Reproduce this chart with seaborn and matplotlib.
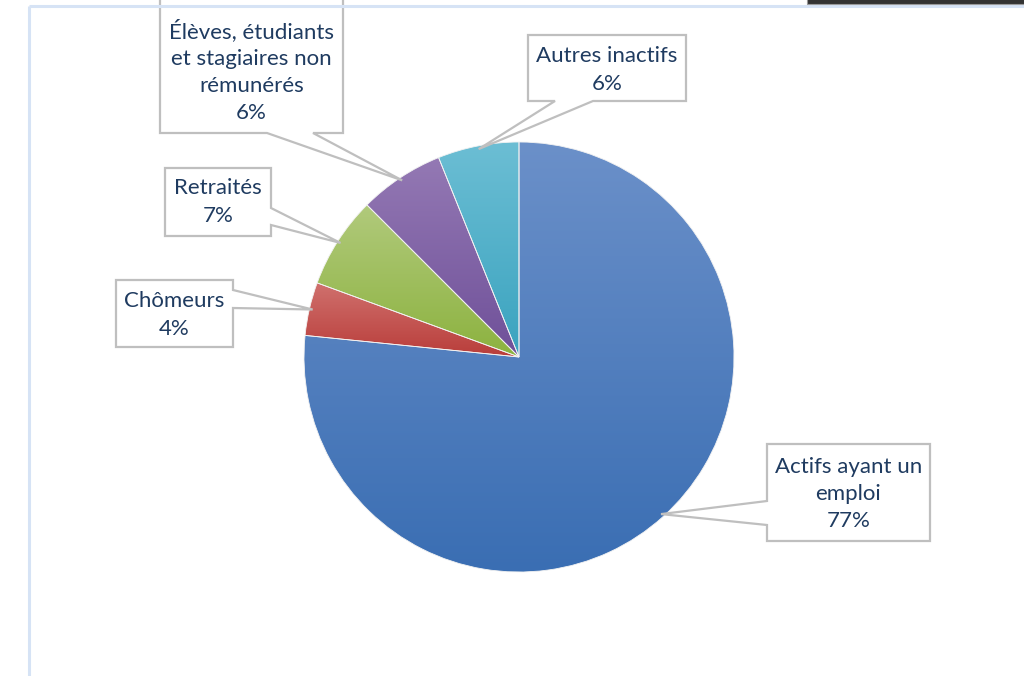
import numpy as np
import matplotlib
matplotlib.use("Agg")
import matplotlib.pyplot as plt
from matplotlib.colors import to_rgb
from matplotlib.patches import Polygon, Rectangle
import seaborn as sns

# ---- data ----
categories = ["Actifs ayant un\nemploi", "Chômeurs", "Retraités",
              "Élèves, étudiants\net stagiaires non\nrémunérés", "Autres inactifs"]
shares = [76.6, 4.0, 6.9, 6.4, 6.1]

# ---- style ----
top_colors = ["#6B90C9", "#D0716E", "#B1CA7C", "#9479B4", "#6CBED4"]
bottom_colors = ["#3A6EB3", "#B93D3A", "#8CB23F", "#6F5099", "#3AA3BF"]
text_color = "#1F3B60"
box_edge = "#BFBFBF"

sns.set_theme(style="white")
plt.rcParams["font.family"] = ["Lato", "DejaVu Sans"]

W, H = 1024, 676
fig = plt.figure(figsize=(W / 100, H / 100), dpi=100)
ax = fig.add_axes([0, 0, 1, 1])

CX, CY, R = 519, 357, 215   # image coords


def Y(y):
    return H - y


wedges, _ = ax.pie(shares, startangle=90, counterclock=False,
                   center=(CX, Y(CY)), radius=R, frame=True,
                   colors=bottom_colors,
                   wedgeprops=dict(edgecolor="#F2F2F2", linewidth=0.6))

# gradient fill per wedge
for w, ct, cb in zip(wedges, top_colors, bottom_colors):
    ext = w.get_path().get_extents()
    n = 256
    t = np.linspace(0, 1, n)[:, None]
    grad = (1 - t) * np.array(to_rgb(ct)) + t * np.array(to_rgb(cb))
    grad = grad[:, None, :]
    im = ax.imshow(grad, extent=[ext.x0, ext.x1, ext.y0, ext.y1],
                   origin="upper", aspect="auto", zorder=2,
                   interpolation="bilinear")
    im.set_clip_path(w)
    w.set_facecolor("none")
    w.set_zorder(3)

# callout boxes (image coords): box, pointer side, pointer base
boxes = [
    dict(box=(767, 444, 930, 541), side="left", base=(501, 525), txt=(848.5, 494)),
    dict(box=(116, 280, 233, 347), side="right", base=(290, 308), txt=(174.5, 315)),
    dict(box=(165, 168, 271, 236), side="right", base=(208, 225), txt=(218, 202)),
    dict(box=(160, -10, 343, 133), side="bottom", base=(267, 313), txt=(251.5, 71)),
    dict(box=(528, 35, 686, 101), side="bottom", base=(555, 593), txt=(607, 70)),
]

for w, b, cat, s in zip(wedges, boxes, categories, shares):
    mid = np.deg2rad((w.theta1 + w.theta2) / 2)
    tx = CX + 0.985 * R * np.cos(mid)
    ty = CY - 0.985 * R * np.sin(mid)
    x0, y0, x1, y1 = b["box"]
    p, q = b["base"]
    if b["side"] == "left":
        pts = [(x0, y0), (x1, y0), (x1, y1), (x0, y1), (x0, q), (tx, ty), (x0, p)]
    elif b["side"] == "right":
        pts = [(x0, y0), (x1, y0), (x1, p), (tx, ty), (x1, q), (x1, y1), (x0, y1)]
    else:
        pts = [(x0, y0), (x1, y0), (x1, y1), (q, y1), (tx, ty), (p, y1), (x0, y1)]
    poly = Polygon([(x, Y(y)) for x, y in pts], closed=True, facecolor="white",
                   edgecolor=box_edge, linewidth=1.6, zorder=4)
    ax.add_patch(poly)
    ax.text(b["txt"][0], Y(b["txt"][1]), f"{cat}\n{round(s)}%",
            ha="center", va="center", color=text_color, fontsize=16,
            linespacing=1.45, zorder=5)

# outer frame lines
ax.plot([29, 29], [Y(6), Y(700)], color="#D6E3F5", lw=2.2, zorder=6,
        solid_capstyle="butt")
ax.plot([29, 1100], [Y(6), Y(6)], color="#D6E3F5", lw=2.2, zorder=6,
        solid_capstyle="butt")
ax.add_patch(Rectangle((807, Y(3.5)), 230, 10, facecolor="#333333",
                       edgecolor="#9A9A9A", lw=0.8, zorder=7))

ax.set_xlim(0, W)
ax.set_ylim(0, H)
ax.set_aspect("auto")
ax.axis("off")

fig.savefig("out.png", dpi=100, facecolor="white")
